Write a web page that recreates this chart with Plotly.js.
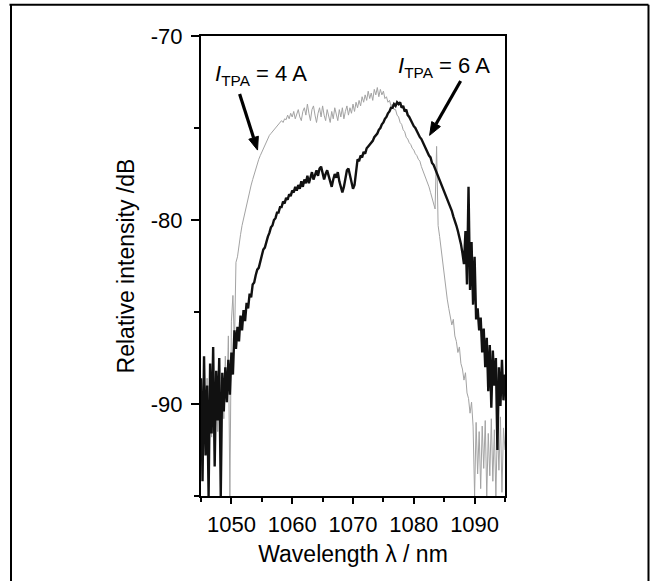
<!DOCTYPE html>
<html>
<head>
<meta charset="utf-8">
<script src="https://cdn.plot.ly/plotly-3.0.1.min.js"></script>
<style>
  html, body { margin: 0; padding: 0; background: #fff; }
  #chart { width: 654px; height: 581px; }
</style>
</head>
<body>
<div id="chart"></div>
<script>
// Sampling grid of both spectra (nm)
const wavelengthStart = 1045;
const wavelengthStep = 0.25;

// Relative intensity (dB) for I_TPA = 4 A (grey trace), 1045 ... 1095 nm
const intensity4A = [
  -90.5, -93.8, -89.2, -92.6, -88.6, -94.5, -90.1, -91.8, -88.2, -93.2,
  -89.0, -91.5, -87.9, -92.4, -88.6, -90.8, -87.4, -89.9, -86.3, -95.0,
  -85.5, -84.1, -86.8, -82.3, -82.0, -81.3, -80.8, -80.3, -79.9, -79.5,
  -79.1, -78.8, -78.4, -78.1, -77.8, -77.5, -77.2, -77.0, -76.7, -76.5,
  -76.3, -76.1, -75.9, -75.8, -75.6, -75.4, -75.3, -75.2, -75.1, -75.0,
  -74.9, -74.8, -74.75, -74.6, -74.7, -74.5, -74.55, -74.3, -74.5, -74.2,
  -74.4, -74.1, -74.5, -74.2, -74.0, -74.4, -74.6, -74.1, -73.9, -74.3,
  -73.7, -74.2, -74.6, -74.0, -73.8, -74.3, -74.7, -74.2, -73.9, -74.4,
  -73.8, -74.3, -74.6, -74.0, -74.4, -74.7, -74.1, -74.5, -73.9, -74.3,
  -74.6, -74.0, -74.4, -73.9, -74.5, -74.1, -73.8, -74.3, -73.9, -74.2,
  -73.7, -74.1, -73.6, -73.9, -73.5, -73.8, -73.3, -73.6, -73.2, -73.5,
  -73.0, -73.4, -73.1, -73.5, -72.9, -73.2, -72.8, -73.3, -72.9, -73.2,
  -73.0, -73.4, -73.3, -73.6, -73.5, -73.8, -73.7, -74.0, -74.0, -74.3,
  -74.4, -74.7, -74.8, -75.1, -75.2, -75.5, -75.6, -75.8, -75.9, -76.1,
  -76.2, -76.4, -76.5, -76.7, -76.8, -77.1, -77.3, -77.5, -77.7, -78.0,
  -78.2, -78.5, -78.8, -79.1, -79.4, -76.0, -80.3, -80.9, -81.6, -82.2,
  -83.0, -83.8, -84.3, -84.8, -85.2, -85.7, -85.4, -86.3, -86.6, -87.2,
  -86.9, -87.8, -88.1, -88.7, -88.3, -89.4, -89.7, -90.5, -89.9, -91.2,
  -95.0, -91.0, -93.8, -91.5, -94.6, -91.2, -93.5, -90.9, -95.0, -91.6,
  -93.9, -90.8, -94.2, -91.4, -95.0, -91.1, -93.6, -90.7, -94.8, -91.3,
  -92.5
];

// Relative intensity (dB) for I_TPA = 6 A (black trace), 1045 ... 1095 nm
const intensity6A = [
  -88.6, -94.2, -87.4, -92.8, -89.0, -95.0, -87.8, -91.6, -86.9, -93.4,
  -88.2, -90.9, -87.5, -95.0, -88.3, -90.4, -88.0, -89.9, -87.6, -89.5,
  -87.2, -88.4, -86.0, -87.0, -85.8, -86.6, -85.2, -86.0, -84.9, -85.5,
  -84.5, -84.8, -84.0, -84.2, -83.5, -83.4, -83.0, -82.7, -82.6, -82.2,
  -82.0, -81.6, -81.5, -81.1, -80.9, -80.7, -80.4, -80.3, -80.0, -79.9,
  -79.6, -79.6, -79.3, -79.3, -79.0, -79.1, -78.8, -78.9, -78.6, -78.7,
  -78.4, -78.5, -78.2, -78.4, -78.1, -78.3, -77.9, -78.2, -77.8, -78.0,
  -77.6, -78.0, -77.7, -77.4, -77.8, -77.5, -77.3, -77.6, -77.2, -77.1,
  -77.4, -77.8, -77.5, -77.3, -77.6, -77.9, -78.2, -77.8, -77.5, -77.7,
  -77.4, -77.9, -78.3, -78.5, -78.2, -77.8, -77.3, -77.2, -77.6, -78.0,
  -78.3, -78.1, -77.4, -76.7, -76.8, -76.5, -76.6, -76.3, -76.4, -76.1,
  -76.0, -75.9, -75.8, -75.7, -75.5, -75.4, -75.3, -75.1, -75.0, -74.8,
  -74.7, -74.5, -74.4, -74.2, -74.1, -73.9, -73.9, -73.7, -73.8, -73.6,
  -73.7, -73.6, -73.9, -73.8, -74.1, -74.0, -74.3, -74.4, -74.6, -74.7,
  -74.9, -75.0, -75.2, -75.3, -75.5, -75.6, -75.8, -75.9, -76.1, -76.3,
  -76.5, -76.6, -76.9, -77.0, -77.2, -77.4, -77.6, -77.8, -78.0, -78.2,
  -78.5, -78.6, -78.9, -79.0, -79.3, -79.5, -79.8, -80.0, -80.3, -80.6,
  -80.9, -81.3, -81.8, -82.4, -80.6, -83.5, -78.2, -83.8, -81.2, -84.6,
  -82.0, -85.4, -84.8, -86.0, -85.3, -87.2, -85.9, -88.0, -86.4, -89.3,
  -86.8, -90.2, -87.1, -89.0, -87.5, -92.5, -88.0, -90.1, -87.6, -89.8,
  -88.4
];

const xTickValues = [1050, 1060, 1070, 1080, 1090];
const xTickLabels = ['1050', '1060', '1070', '1080', '1090'];
const yTickValues = [-70, -80, -90];
const yTickLabels = ['-70', '-80', '-90'];
const label4A = '<i>I</i><sub>TPA</sub> = 4 A';
const label6A = '<i>I</i><sub>TPA</sub> = 6 A';
// arrow tail -> head, in data units [wavelength, dB]
const arrow4A = [[1051.35, -73.15], [1054.3, -76.2]];
const arrow6A = [[1087.7, -72.45], [1082.6, -75.4]];

const FONT = '"Liberation Sans", Arial, "DejaVu Sans", sans-serif';

const X_RANGE = [1045, 1095];
const Y_RANGE = [-95, -70];
const MARGIN = { l: 201, r: 149, t: 36, b: 85 };
const W = 654, H = 581;
const plotW = W - MARGIN.l - MARGIN.r, plotH = H - MARGIN.t - MARGIN.b;
const sx = plotW / (X_RANGE[1] - X_RANGE[0]);
const sy = plotH / (Y_RANGE[1] - Y_RANGE[0]);

// arrow built as line + filled head, sized in pixels and expressed in data units
function arrowShapes(a) {
  const [t, h] = a;
  const dxp = (h[0] - t[0]) * sx, dyp = (h[1] - t[1]) * sy;
  const len = Math.hypot(dxp, dyp);
  const ux = dxp / len, uy = dyp / len;
  const headLen = 13, headHalf = 5;
  const bx = -ux * headLen, by = -uy * headLen;
  const nx = -uy * headHalf, ny = ux * headHalf;
  const P = (ox, oy) => [h[0] + ox / sx, h[1] + oy / sy];
  const base = P(bx, by), p1 = P(bx + nx, by + ny), p2 = P(bx - nx, by - ny);
  return [
    { type: 'line', xref: 'x', yref: 'y', x0: t[0], y0: t[1], x1: base[0], y1: base[1],
      line: { color: '#000', width: 3.2 } },
    { type: 'path', xref: 'x', yref: 'y', fillcolor: '#000', line: { color: '#000', width: 1 },
      path: `M ${h[0]} ${h[1]} L ${p1[0]} ${p1[1]} L ${p2[0]} ${p2[1]} Z` }
  ];
}

const traces = [
  {
    type: 'scatter', mode: 'lines', name: '4 A',
    x0: wavelengthStart, dx: wavelengthStep, y: intensity4A,
    line: { color: '#a3a3a3', width: 1 },
    hoverinfo: 'skip'
  },
  {
    type: 'scatter', mode: 'lines', name: '6 A',
    x0: wavelengthStart, dx: wavelengthStep, y: intensity6A,
    line: { color: '#111111', width: 2.4 },
    hoverinfo: 'skip'
  }
];

const axisCommon = {
  showgrid: false, zeroline: false,
  showline: true, linecolor: '#000', linewidth: 2, mirror: true,
  ticks: 'outside', tickcolor: '#000', tickwidth: 2,
  tickfont: { family: FONT, size: 22, color: '#000' },
  automargin: false
};

const layout = {
  width: W, height: H,
  margin: Object.assign({ pad: 0 }, MARGIN),
  paper_bgcolor: '#fff', plot_bgcolor: '#fff',
  showlegend: false,
  font: { family: FONT, size: 22, color: '#000' },
  xaxis: Object.assign({}, axisCommon, {
    range: X_RANGE, tickmode: 'array', tickvals: xTickValues, ticktext: xTickLabels, ticklen: 6,
    ticklabelstandoff: 2,
    minor: { dtick: 5, tick0: 1045, ticks: 'outside', ticklen: 4, tickwidth: 2, tickcolor: '#000' },
    title: { text: 'Wavelength λ / nm', font: { family: FONT, size: 23, color: '#000' }, standoff: 9 }
  }),
  yaxis: Object.assign({}, axisCommon, {
    range: Y_RANGE, tickmode: 'array', tickvals: yTickValues, ticktext: yTickLabels, ticklen: 8,
    ticklabelstandoff: 4,
    minor: { dtick: 5, tick0: -70, ticks: 'outside', ticklen: 5, tickwidth: 2, tickcolor: '#000' },
    title: { text: 'Relative intensity /dB', font: { family: FONT, size: 23, color: '#000' }, standoff: 10 }
  }),
  annotations: [
    { x: 1046.9, y: -72.1, xref: 'x', yref: 'y', xanchor: 'left', yanchor: 'middle',
      text: label4A, showarrow: false, font: { family: FONT, size: 22, color: '#000' } },
    { x: 1077.0, y: -71.7, xref: 'x', yref: 'y', xanchor: 'left', yanchor: 'middle',
      text: label6A, showarrow: false, font: { family: FONT, size: 22, color: '#000' } }
  ],
  shapes: [
    // outer frame of the figure (left, top, right edges)
    { type: 'line', xref: 'paper', yref: 'paper', x0: -0.625, x1: -0.625, y0: 1.068, y1: -0.19, line: { color: '#000', width: 2 } },
    { type: 'line', xref: 'paper', yref: 'paper', x0: -0.63, x1: 1.472, y0: 1.068, y1: 1.068, line: { color: '#000', width: 2 } },
    { type: 'line', xref: 'paper', yref: 'paper', x0: 1.472, x1: 1.472, y0: 1.068, y1: -0.19, line: { color: '#000', width: 2 } }
  ].concat(arrowShapes(arrow4A), arrowShapes(arrow6A))
};

Plotly.newPlot('chart', traces, layout, { staticPlot: true, displayModeBar: false });
</script>
</body>
</html>
